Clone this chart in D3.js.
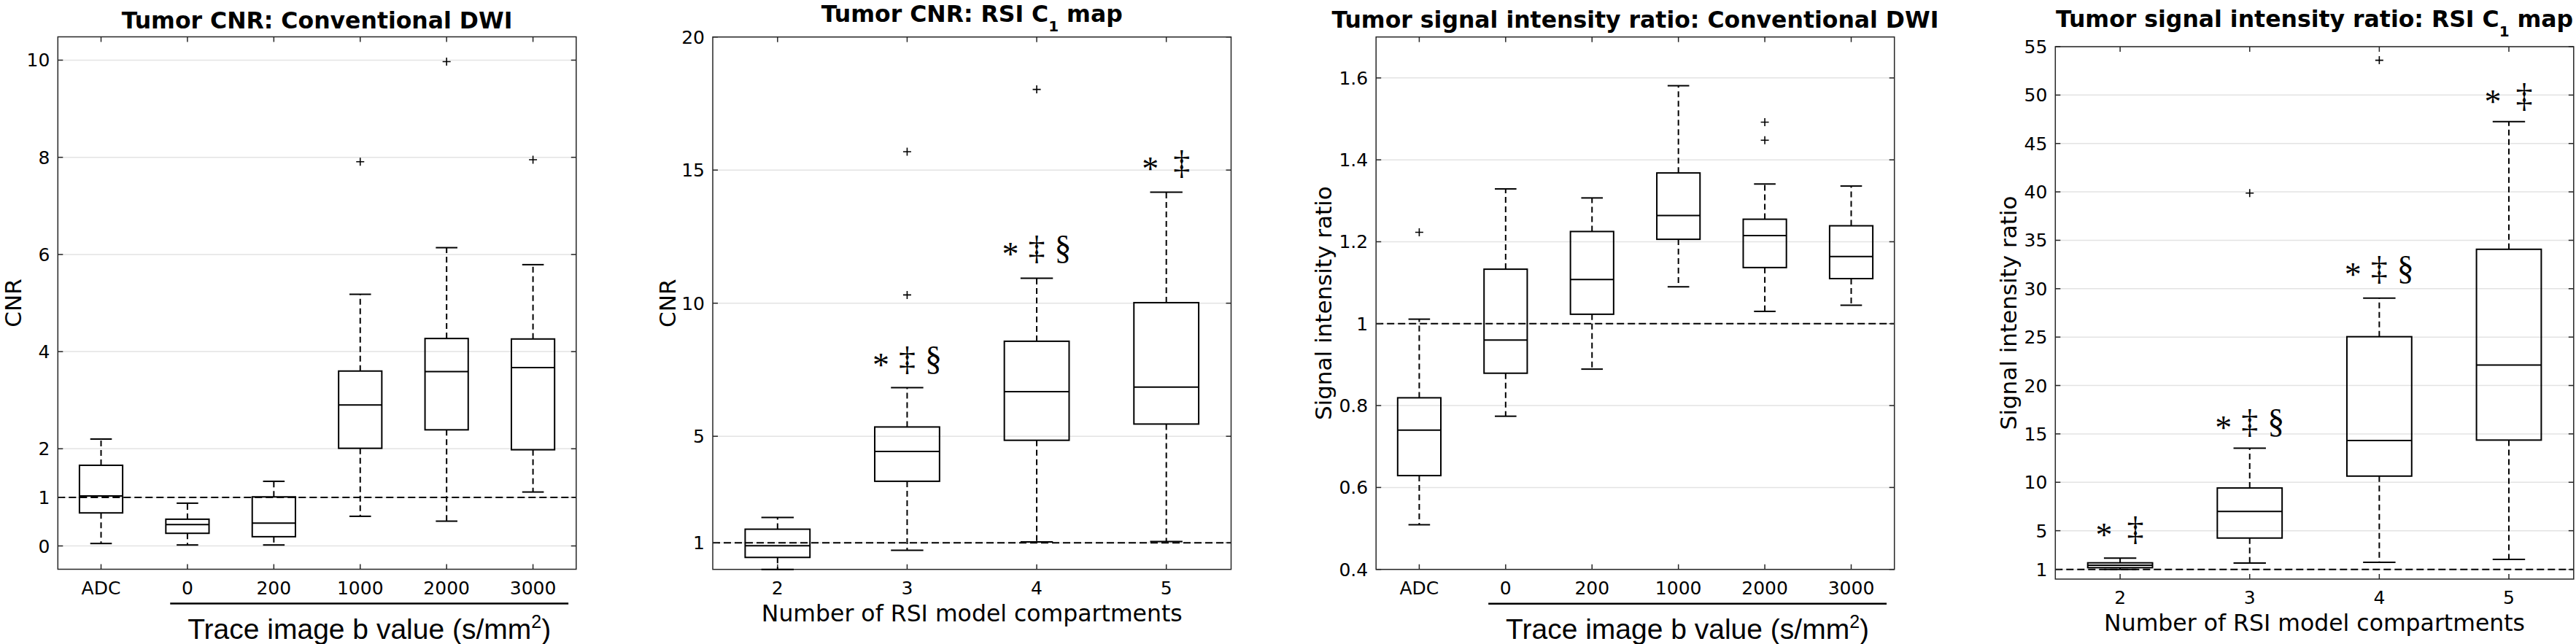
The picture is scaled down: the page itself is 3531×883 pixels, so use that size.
<!DOCTYPE html>
<html>
<head>
<meta charset="utf-8">
<script src="https://cdn.jsdelivr.net/npm/d3@7"></script>
<style>
  body { margin: 0; background: #fff; }
  svg { display: block; font-family: "DejaVu Sans", sans-serif; }
</style>
</head>
<body>
<script>
// category labels
const dwiLabels = ["ADC", "0", "200", "1000", "2000", "3000"];
const rsiLabels = ["2", "3", "4", "5"];

// Tumor CNR: conventional DWI
const cnrDwiLow = [0.05, 0.02, 0.02, 0.61, 0.51, 1.11];
const cnrDwiQ1 = [0.68, 0.26, 0.19, 2.01, 2.39, 1.98];
const cnrDwiMed = [1.03, 0.44, 0.47, 2.90, 3.59, 3.67];
const cnrDwiQ3 = [1.66, 0.55, 1.01, 3.60, 4.27, 4.26];
const cnrDwiHigh = [2.20, 0.88, 1.33, 5.18, 6.14, 5.79];
const cnrDwiOut = [[], [], [], [7.91], [9.97], [7.95]];
const cnrDwiTicks = [0, 1, 2, 4, 6, 8, 10];

// Tumor CNR: RSI C1 map
const cnrRsiLow = [0.0, 0.72, 1.03, 1.05];
const cnrRsiQ1 = [0.45, 3.31, 4.85, 5.46];
const cnrRsiMed = [0.89, 4.43, 6.68, 6.85];
const cnrRsiQ3 = [1.51, 5.35, 8.57, 10.02];
const cnrRsiHigh = [1.95, 6.83, 10.94, 14.17];
const cnrRsiOut = [[], [10.31, 15.69], [18.03], []];
const cnrRsiMarks = ["", "*‡§", "*‡§", "*‡"];
const cnrRsiMarkY = [0, 7.86, 12.03, 15.23];
const cnrRsiTicks = [1, 5, 10, 15, 20];

// Tumor signal intensity ratio: conventional DWI
const sirDwiLow = [0.509, 0.774, 0.889, 1.090, 1.030, 1.045];
const sirDwiQ1 = [0.629, 0.879, 1.023, 1.206, 1.137, 1.110];
const sirDwiMed = [0.740, 0.960, 1.108, 1.264, 1.215, 1.164];
const sirDwiQ3 = [0.819, 1.133, 1.225, 1.368, 1.255, 1.239];
const sirDwiHigh = [1.011, 1.329, 1.307, 1.581, 1.341, 1.336];
const sirDwiOut = [[1.223], [], [], [], [1.448, 1.492], []];
const sirDwiTicks = [0.4, 0.6, 0.8, 1, 1.2, 1.4, 1.6];

// Tumor signal intensity ratio: RSI C1 map
const sirRsiLow = [0.99, 1.65, 1.74, 2.03];
const sirRsiQ1 = [1.18, 4.24, 10.64, 14.36];
const sirRsiMed = [1.43, 6.99, 14.32, 22.12];
const sirRsiQ3 = [1.68, 9.41, 25.04, 34.07];
const sirRsiHigh = [2.16, 13.52, 29.03, 47.25];
const sirRsiOut = [[], [39.87], [53.6], []];
const sirRsiMarks = ["*‡", "*‡§", "*‡§", "*‡"];
const sirRsiMarkY = [5.03, 16.15, 31.97, 49.8];
const sirRsiTicks = [1, 5, 10, 15, 20, 25, 30, 35, 40, 45, 50, 55];

const W = 3531, H = 883;
const PW = 710.5, PH = 730;
const svg = d3.select("body").append("svg").attr("width", W).attr("height", H);

function stats(labels, lo, q1, med, q3, hi, out) {
  return labels.map((c, i) => ({cat: c, lo: lo[i], q1: q1[i], med: med[i], q3: q3[i], hi: hi[i], out: out[i]}));
}

const panels = [
  {left: 79.3, top: 50.5, title: "Tumor CNR: Conventional DWI", sub: false, titleGap: 12, ylabel: "CNR", yoff: 50,
   domain: [-0.48, 10.48], ticks: cnrDwiTicks, labels: dwiLabels, dwi: true,
   data: stats(dwiLabels, cnrDwiLow, cnrDwiQ1, cnrDwiMed, cnrDwiQ3, cnrDwiHigh, cnrDwiOut)},
  {left: 977, top: 50.7, title: "Tumor CNR: RSI C", sub: true, titleGap: 21, ylabel: "CNR", yoff: 51,
   domain: [0, 20], ticks: cnrRsiTicks, labels: rsiLabels, dwi: false,
   marks: cnrRsiMarks, markY: cnrRsiMarkY,
   data: stats(rsiLabels, cnrRsiLow, cnrRsiQ1, cnrRsiMed, cnrRsiQ3, cnrRsiHigh, cnrRsiOut)},
  {left: 1886.2, top: 50.7, title: "Tumor signal intensity ratio: Conventional DWI", sub: false, titleGap: 13, ylabel: "Signal intensity ratio", yoff: 61,
   domain: [0.4, 1.7], ticks: sirDwiTicks, labels: dwiLabels, dwi: true,
   data: stats(dwiLabels, sirDwiLow, sirDwiQ1, sirDwiMed, sirDwiQ3, sirDwiHigh, sirDwiOut)},
  {left: 2817.3, top: 64, title: "Tumor signal intensity ratio: RSI C", sub: true, titleGap: 27, ylabel: "Signal intensity ratio", yoff: 53,
   domain: [0, 55], ticks: sirRsiTicks, labels: rsiLabels, dwi: false,
   marks: sirRsiMarks, markY: sirRsiMarkY,
   data: stats(rsiLabels, sirRsiLow, sirRsiQ1, sirRsiMed, sirRsiQ3, sirRsiHigh, sirRsiOut)}
];

panels.forEach(drawPanel);

function drawPanel(p) {
  const x0 = p.left, x1 = p.left + PW, y0 = p.top, y1 = p.top + PH;
  const x = d3.scalePoint().domain(p.labels).range([x0, x1]).padding(0.5);
  const y = d3.scaleLinear().domain(p.domain).range([y1, y0]);
  const step = x.step();
  const g = svg.append("g");

  // grid
  g.selectAll(".grid").data(p.ticks).enter().append("line")
    .attr("x1", x0).attr("x2", x1)
    .attr("y1", d => y(d)).attr("y2", d => y(d))
    .attr("stroke", "#e3e3e3").attr("stroke-width", 1.5);

  // reference line at 1
  g.append("line")
    .attr("x1", x0).attr("x2", x1).attr("y1", y(1)).attr("y2", y(1))
    .attr("stroke", "#000").attr("stroke-width", 2).attr("stroke-dasharray", "10,5");

  // frame
  g.append("rect").attr("x", x0).attr("y", y0).attr("width", PW).attr("height", PH)
    .attr("fill", "none").attr("stroke", "#262626").attr("stroke-width", 1.5);

  // ticks inward
  const tl = 7;
  p.labels.forEach(c => {
    g.append("line").attr("x1", x(c)).attr("x2", x(c)).attr("y1", y1).attr("y2", y1 - tl).attr("stroke", "#262626").attr("stroke-width", 1.5);
    g.append("line").attr("x1", x(c)).attr("x2", x(c)).attr("y1", y0).attr("y2", y0 + tl).attr("stroke", "#262626").attr("stroke-width", 1.5);
  });
  p.ticks.forEach(t => {
    g.append("line").attr("x1", x0).attr("x2", x0 + tl).attr("y1", y(t)).attr("y2", y(t)).attr("stroke", "#262626").attr("stroke-width", 1.5);
    g.append("line").attr("x1", x1).attr("x2", x1 - tl).attr("y1", y(t)).attr("y2", y(t)).attr("stroke", "#262626").attr("stroke-width", 1.5);
  });

  // tick labels
  g.selectAll(".ytl").data(p.ticks).enter().append("text")
    .attr("x", x0 - 11).attr("y", d => y(d)).attr("dy", "0.36em")
    .attr("text-anchor", "end").attr("font-size", 25).attr("fill", "#000")
    .text(d => String(d));
  g.selectAll(".xtl").data(p.labels).enter().append("text")
    .attr("x", d => x(d)).attr("y", y1 + 34)
    .attr("text-anchor", "middle").attr("font-size", 25).attr("fill", "#000")
    .text(d => d);

  // boxes
  const bw = step * 0.5, cw = step * 0.25;
  const b = g.selectAll(".box").data(p.data).enter().append("g");
  b.append("line").attr("x1", d => x(d.cat)).attr("x2", d => x(d.cat))
    .attr("y1", d => y(d.q3)).attr("y2", d => y(d.hi))
    .attr("stroke", "#000").attr("stroke-width", 2).attr("stroke-dasharray", "8,5");
  b.append("line").attr("x1", d => x(d.cat)).attr("x2", d => x(d.cat))
    .attr("y1", d => y(d.q1)).attr("y2", d => y(d.lo))
    .attr("stroke", "#000").attr("stroke-width", 2).attr("stroke-dasharray", "8,5");
  ["hi", "lo"].forEach(k => {
    b.append("line").attr("x1", d => x(d.cat) - cw / 2).attr("x2", d => x(d.cat) + cw / 2)
      .attr("y1", d => y(d[k])).attr("y2", d => y(d[k]))
      .attr("stroke", "#000").attr("stroke-width", 2);
  });
  b.append("rect").attr("x", d => x(d.cat) - bw / 2).attr("width", bw)
    .attr("y", d => y(d.q3)).attr("height", d => y(d.q1) - y(d.q3))
    .attr("fill", "none").attr("stroke", "#000").attr("stroke-width", 2);
  b.append("line").attr("x1", d => x(d.cat) - bw / 2).attr("x2", d => x(d.cat) + bw / 2)
    .attr("y1", d => y(d.med)).attr("y2", d => y(d.med))
    .attr("stroke", "#000").attr("stroke-width", 2);

  // outliers
  const outs = [];
  p.data.forEach(d => d.out.forEach(v => outs.push({cat: d.cat, v: v})));
  g.selectAll(".out").data(outs).enter().append("path")
    .attr("d", d => {
      const cx = x(d.cat), cy = y(d.v), r = 5.5;
      return `M${cx - r},${cy}H${cx + r}M${cx},${cy - r}V${cy + r}`;
    })
    .attr("stroke", "#000").attr("stroke-width", 1.6).attr("fill", "none");

  // significance marks (* vs 2 b-value, double dagger vs ADC, section vs b0)
  if (p.marks) {
    const lift = {"*": 22, "‡": 14, "§": 13};
    p.marks.forEach((m, i) => {
      if (!m) return;
      const syms = m.split("");
      const offs = syms.length === 3 ? [-36, 0, 36] : [-22, 21];
      const cy = y(p.markY[i]);
      syms.forEach((s, j) => {
        g.append("text")
          .attr("x", x(p.labels[i]) + offs[j])
          .attr("y", cy + lift[s])
          .attr("text-anchor", "middle")
          .attr("font-family", "'Liberation Serif', serif")
          .attr("font-size", 46).attr("fill", "#000")
          .text(s);
      });
    });
  }

  // title
  const t = g.append("text")
    .attr("x", (x0 + x1) / 2).attr("y", y0 - p.titleGap)
    .attr("text-anchor", "middle").attr("font-size", 31.5).attr("font-weight", "bold").attr("fill", "#000");
  t.append("tspan").text(p.title);
  if (p.sub) {
    t.append("tspan").attr("font-size", 20).attr("dy", 13).text("1");
    t.append("tspan").attr("dy", -13).text(" map");
  }

  // y label
  g.append("text")
    .attr("transform", `translate(${x0 - p.yoff},${(y0 + y1) / 2}) rotate(-90)`)
    .attr("text-anchor", "middle").attr("font-size", 31).attr("fill", "#000")
    .text(p.ylabel);

  // x label
  if (p.dwi) {
    const lx0 = x(p.labels[1]) - 0.2 * step, lx1 = x(p.labels[5]) + 0.41 * step;
    g.append("line").attr("x1", lx0).attr("x2", lx1).attr("y1", y1 + 47).attr("y2", y1 + 47)
      .attr("stroke", "#000").attr("stroke-width", 2.5);
    const xl = g.append("text")
      .attr("x", (lx0 + lx1) / 2).attr("y", y1 + 95)
      .attr("text-anchor", "middle").attr("font-family", "'Liberation Sans', Arial, sans-serif")
      .attr("font-size", 39).attr("fill", "#000");
    xl.append("tspan").text("Trace image b value (s/mm");
    xl.append("tspan").attr("font-size", 25).attr("dy", -15).text("2");
    xl.append("tspan").attr("dy", 15).text(")");
  } else {
    g.append("text")
      .attr("x", (x0 + x1) / 2).attr("y", y1 + 71)
      .attr("text-anchor", "middle").attr("font-size", 31.5).attr("fill", "#000")
      .text("Number of RSI model compartments");
  }
}
</script>
</body>
</html>
